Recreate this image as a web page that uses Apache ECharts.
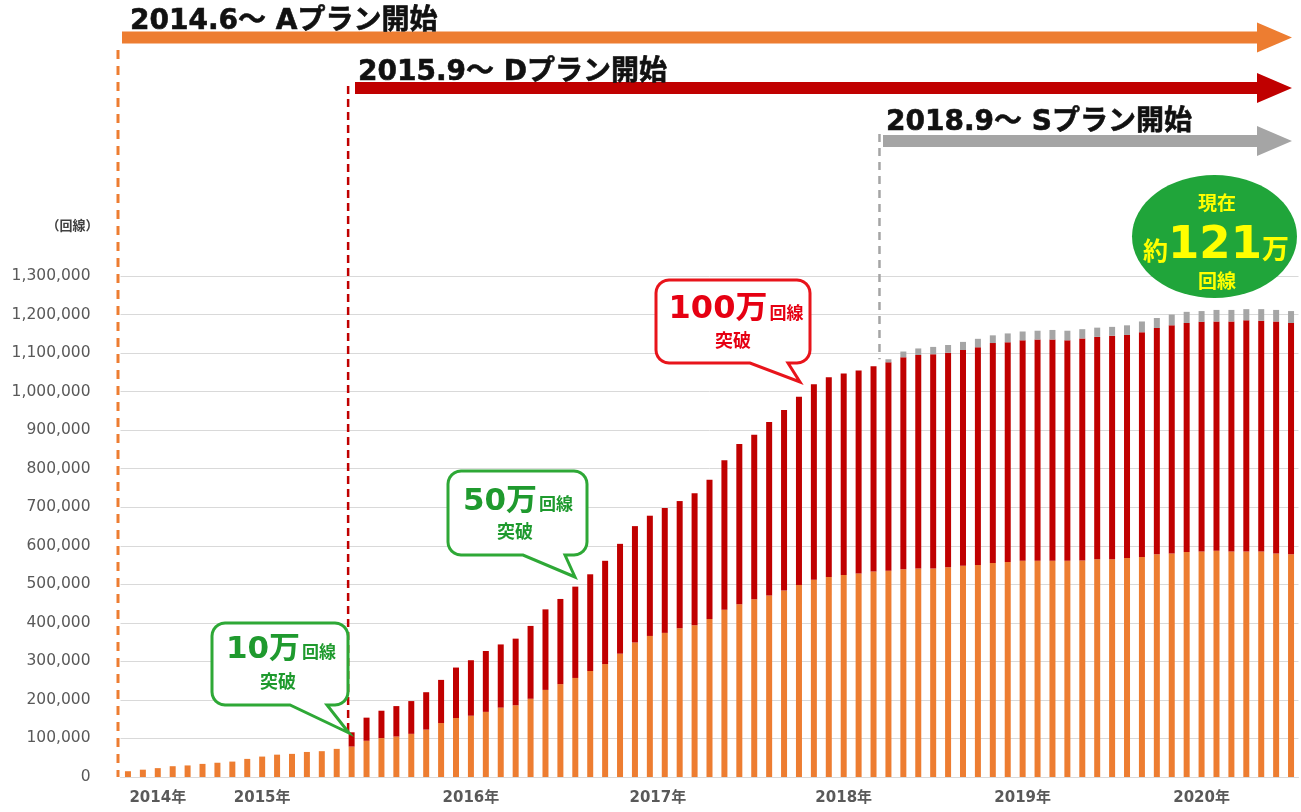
<!DOCTYPE html>
<html>
<head>
<meta charset="utf-8">
<script src="https://cdn.jsdelivr.net/npm/echarts@6/dist/echarts.min.js"></script>
<style>
html, body { margin: 0; padding: 0; background: #fff; }
#main { width: 1301px; height: 812px; }
</style>
</head>
<body>
<div id="main"></div>
<script>
// 月次（2014.6〜2020.12）
var months = [
    '2014.6', '2014.7', '2014.8', '2014.9', '2014.10', '2014.11', '2014.12',
    '2015.1', '2015.2', '2015.3', '2015.4', '2015.5', '2015.6', '2015.7', '2015.8', '2015.9', '2015.10', '2015.11', '2015.12',
    '2016.1', '2016.2', '2016.3', '2016.4', '2016.5', '2016.6', '2016.7', '2016.8', '2016.9', '2016.10', '2016.11', '2016.12',
    '2017.1', '2017.2', '2017.3', '2017.4', '2017.5', '2017.6', '2017.7', '2017.8', '2017.9', '2017.10', '2017.11', '2017.12',
    '2018.1', '2018.2', '2018.3', '2018.4', '2018.5', '2018.6', '2018.7', '2018.8', '2018.9', '2018.10', '2018.11', '2018.12',
    '2019.1', '2019.2', '2019.3', '2019.4', '2019.5', '2019.6', '2019.7', '2019.8', '2019.9', '2019.10', '2019.11', '2019.12',
    '2020.1', '2020.2', '2020.3', '2020.4', '2020.5', '2020.6', '2020.7', '2020.8', '2020.9', '2020.10', '2020.11', '2020.12'
];

// 年ラベルの位置（元の図に合わせる）
var yearTickMonths = ['2014.8', '2015.3', '2016.5', '2017.5', '2018.6', '2019.6', '2020.6'];
var yearTickLabels = ['2014年', '2015年', '2016年', '2017年', '2018年', '2019年', '2020年'];

// Aプラン
var planA = [
    15000, 19000, 23000, 28000, 30000, 34000, 37000, 40000, 47000, 53000, 58000, 60000, 65000, 67000, 73000,
    79000, 94000, 101000, 105000,
    112000, 123000, 140000, 153000, 159000, 169000, 180000, 186000, 203000, 226000,
    241000, 257000, 275000, 293000, 320000, 349000, 366000, 374000, 386000, 394000,
    410000, 434000, 448000, 461000, 471000, 484000, 498000, 512000, 519000, 524000,
    528000, 533000, 535000, 539000, 541000, 541000, 544000, 548000, 550000, 555000,
    558000, 561000, 561000, 561000, 561000, 562000, 565000, 565000, 568000, 571000,
    578000, 580000, 584000, 585000, 587000, 585000, 585000, 585000, 580000, 578000
];
// Dプラン
var planD = [
    0, 0, 0, 0, 0, 0, 0, 0, 0, 0, 0, 0, 0, 0, 0,
    37000, 60000, 71000, 79000,
    85000, 97000, 112000, 131000, 144000, 158000, 164000, 173000, 189000, 209000,
    221000, 237000, 251000, 268000, 285000, 302000, 312000, 324000, 330000, 342000,
    361000, 388000, 416000, 427000, 450000, 468000, 489000, 507000, 518000, 523000,
    527000, 533000, 541000, 550000, 554000, 556000, 557000, 560000, 565000, 571000,
    570000, 572000, 574000, 574000, 572000, 576000, 577000, 580000, 579000, 583000,
    587000, 592000, 594000, 596000, 595000, 597000, 600000, 599000, 602000, 600000
];
// Sプラン
var planS = [
    0, 0, 0, 0, 0, 0, 0, 0, 0, 0, 0, 0, 0, 0, 0,
    0, 0, 0, 0,
    0, 0, 0, 0, 0, 0, 0, 0, 0, 0,
    0, 0, 0, 0, 0, 0, 0, 0, 0, 0,
    0, 0, 0, 0, 0, 0, 0, 0, 0, 0,
    0, 0, 8000, 15000, 17000, 19000, 20000, 21000, 22000, 20000,
    23000, 23000, 23000, 25000, 25000, 24000, 24000, 23000, 25000, 28000,
    26000, 28000, 29000, 28000, 30000, 30000, 29000, 30000, 30000, 31000
];

var FONT = '"DejaVu Sans", "Noto Sans CJK JP", sans-serif';
var ORANGE = '#ED7D31', RED = '#C00000', GRAY = '#A5A5A5';
var GREEN = '#2ea836', GREEN_TXT = '#1f9a2e', RED_TXT = '#e60012';

var chart = echarts.init(document.getElementById('main'));

var option = {
    animation: false,
    backgroundColor: '#fff',
    grid: { left: 120.5, right: 2.5, top: 276, bottom: 35 },
    xAxis: {
        type: 'category',
        data: months,
        axisTick: { show: false },
        axisLine: { lineStyle: { color: '#d9d9d9', width: 1 } },
        axisLabel: {
            interval: 0,
            margin: 14,
            color: '#595959',
            fontSize: 15,
            fontWeight: 'bold',
            fontFamily: FONT,
            formatter: function (v) {
                var i = yearTickMonths.indexOf(v);
                // 2017年だけ少し右寄せ
                if (i === 3) return '{s|' + yearTickLabels[i] + '}';
                return i >= 0 ? yearTickLabels[i] : '';
            },
            rich: {
                s: { fontSize: 15, fontWeight: 'bold', fontFamily: FONT, color: '#595959', padding: [0, 0, 0, 16] }
            }
        }
    },
    yAxis: {
        type: 'value',
        min: 0,
        max: 1300000,
        interval: 100000,
        name: '（回線）',
        nameLocation: 'end',
        nameGap: 43,
        nameTextStyle: {
            align: 'right',
            padding: [0, 22, 0, 0],
            color: '#404040',
            fontSize: 13,
            fontWeight: 'bold',
            fontFamily: FONT
        },
        axisLine: { show: false },
        axisTick: { show: false },
        splitLine: { lineStyle: { color: '#d9d9d9', width: 1 } },
        axisLabel: {
            margin: 30,
            color: '#595959',
            fontSize: 15.5,
            fontFamily: FONT,
            formatter: function (v) { return v.toLocaleString('en-US'); }
        }
    },
    series: [
        { name: 'Aプラン', type: 'bar', stack: 'total', barWidth: 6, data: planA, itemStyle: { color: ORANGE } },
        { name: 'Dプラン', type: 'bar', stack: 'total', barWidth: 6, data: planD, itemStyle: { color: RED } },
        { name: 'Sプラン', type: 'bar', stack: 'total', barWidth: 6, data: planS, itemStyle: { color: GRAY } }
    ]
};
chart.setOption(option);

// 吹き出しの形
function bubblePoints(x, y, w, h, r, baseL, baseR, tipX, tipY) {
    var pts = [];
    function arc(cx, cy, a0, a1) {
        for (var k = 0; k <= 6; k++) {
            var a = a0 + (a1 - a0) * k / 6;
            pts.push([cx + r * Math.cos(a), cy + r * Math.sin(a)]);
        }
    }
    arc(x + r, y + r, Math.PI, Math.PI * 1.5);
    arc(x + w - r, y + r, Math.PI * 1.5, Math.PI * 2);
    arc(x + w - r, y + h - r, 0, Math.PI * 0.5);
    pts.push([baseR, y + h], [tipX, tipY], [baseL, y + h]);
    arc(x + r, y + h - r, Math.PI * 0.5, Math.PI);
    return pts;
}

function bubble(x, y, w, h, baseL, baseR, tipX, tipY, color, txtColor, big, bigSize, cx, y1, y2) {
    return [
        {
            type: 'polygon', z: 100,
            shape: { points: bubblePoints(x, y, w, h, 13, baseL, baseR, tipX, tipY) },
            style: { fill: '#fff', stroke: color, lineWidth: 3 }
        },
        {
            type: 'text', z: 101, x: cx, y: y1,
            style: {
                text: '{a|' + big + '}{b|回線}',
                align: 'center', verticalAlign: 'middle',
                rich: {
                    a: { fontSize: bigSize, fontWeight: 'bold', fontFamily: FONT, fill: txtColor, verticalAlign: 'bottom' },
                    b: { fontSize: 17, fontWeight: 'bold', fontFamily: FONT, fill: txtColor, verticalAlign: 'bottom', padding: [0, 0, 3, 2] }
                }
            }
        },
        {
            type: 'text', z: 101, x: cx - 3, y: y2,
            style: { text: '突破', align: 'center', verticalAlign: 'middle', fontSize: 18, fontWeight: 'bold', fontFamily: FONT, fill: txtColor }
        }
    ];
}

function arrow(x0, yc, color) {
    return {
        type: 'polygon', z: 50,
        shape: {
            points: [[x0, yc - 6], [1257, yc - 6], [1257, yc - 15], [1292, yc], [1257, yc + 15], [1257, yc + 6], [x0, yc + 6]]
        },
        style: { fill: color }
    };
}

function header(x, y, text) {
    return {
        type: 'text', z: 60, x: x, y: y,
        style: { text: text, align: 'left', verticalAlign: 'middle', fontSize: 28, fontWeight: 'bold', fontFamily: FONT, fill: '#111', stroke: '#111', lineWidth: 0.6 }
    };
}

function drawAnnotations() {
    var px = function (i) { return chart.convertToPixel({ xAxisIndex: 0 }, months[i]); };
    var py = function (v) { return chart.convertToPixel({ yAxisIndex: 0 }, v); };
    var band = px(1) - px(0);
    var total = function (i) { return planA[i] + planD[i] + planS[i]; };

    var xA = px(0) - band / 2 - 2.5;
    var xD = px(15) - 3.5;
    var xS = px(51) - band / 2 - 1.5;

    var g = [
        { type: 'line', z: 40, shape: { x1: xA, y1: 50, x2: xA, y2: py(0) }, style: { stroke: ORANGE, lineWidth: 3, lineDash: [9, 7] } },
        { type: 'line', z: 40, shape: { x1: xD, y1: 86, x2: xD, y2: py(total(15)) }, style: { stroke: RED, lineWidth: 2.5, lineDash: [8, 5] } },
        { type: 'line', z: 40, shape: { x1: xS, y1: 134, x2: xS, y2: py(total(51)) }, style: { stroke: GRAY, lineWidth: 2.5, lineDash: [8, 6] } },
        arrow(122, 37.5, ORANGE),
        arrow(355, 88, RED),
        arrow(883, 141, GRAY),
        header(130, 22, '2014.6〜 Aプラン開始'),
        header(358, 73, '2015.9〜 Dプラン開始'),
        header(886, 123, '2018.9〜 Sプラン開始'),
        // 現在 約121万回線
        {
            type: 'circle', z: 100, x: 1214.5, y: 236.5, scaleX: 82.5 / 61.5,
            shape: { cx: 0, cy: 0, r: 61.5 },
            style: { fill: '#20a53a' }
        },
        {
            type: 'text', z: 101, x: 1217, y: 205,
            style: { text: '現在', align: 'center', verticalAlign: 'middle', fontSize: 19, fontWeight: 'bold', fontFamily: FONT, fill: '#ffff00' }
        },
        {
            type: 'text', z: 101, x: 1216, y: 246,
            style: {
                text: '{a|約}{b|121}{c|万}',
                align: 'center', verticalAlign: 'middle',
                rich: {
                    a: { fontSize: 25, fontWeight: 'bold', fontFamily: FONT, fill: '#ffff00', verticalAlign: 'bottom', padding: [0, 0, 3, 0] },
                    b: { fontSize: 45, fontWeight: 'bold', fontFamily: FONT, fill: '#ffff00', verticalAlign: 'bottom' },
                    c: { fontSize: 27, fontWeight: 'bold', fontFamily: FONT, fill: '#ffff00', verticalAlign: 'bottom', padding: [0, 0, 3, 0] }
                }
            }
        },
        {
            type: 'text', z: 101, x: 1217, y: 283,
            style: { text: '回線', align: 'center', verticalAlign: 'middle', fontSize: 19, fontWeight: 'bold', fontFamily: FONT, fill: '#ffff00' }
        }
    ];

    g = g.concat(bubble(212, 623, 136, 82, 290, 327, 349, 733, GREEN, GREEN_TXT, '10万', 31, 281, 650, 683));
    g = g.concat(bubble(448, 471, 139, 84, 523, 565, 575, 577, GREEN, GREEN_TXT, '50万', 31, 518, 502, 533));
    g = g.concat(bubble(656, 280, 154, 83, 750, 788, 800, 382, '#e8141b', RED_TXT, '100万', 32, 736, 310, 342));

    chart.setOption({ graphic: g });
}
drawAnnotations();
</script>
</body>
</html>
